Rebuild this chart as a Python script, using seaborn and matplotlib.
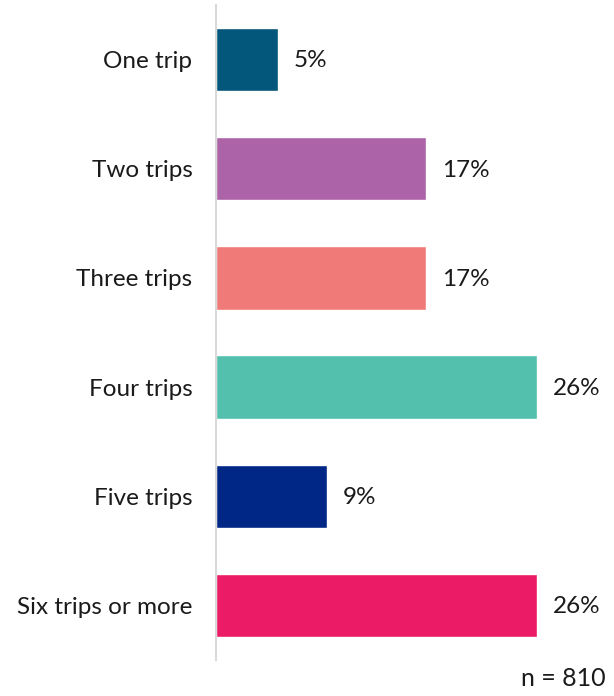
import matplotlib
matplotlib.use("Agg")
import matplotlib.pyplot as plt
import seaborn as sns
import pandas as pd

categories = ["One trip", "Two trips", "Three trips", "Four trips", "Five trips", "Six trips or more"]
values = [5, 17, 17, 26, 9, 26]
colors = ["#02577A", "#AD63A8", "#F07A77", "#52C0AD", "#002686", "#EC1B66"]
sample_note = "n = 810"

sns.set_theme(style="white")
plt.rcParams["font.family"] = ["Lato", "DejaVu Sans"]

df = pd.DataFrame({"category": categories, "value": values})

fig = plt.figure(figsize=(6.14, 6.96), dpi=100)
ax = fig.add_axes([216 / 614, 36 / 696, 395 / 614, 655 / 696])

sns.barplot(data=df, y="category", x="value", hue="category", palette=colors,
            order=categories, orient="h", width=0.58, legend=False, ax=ax,
            saturation=1)

ax.set_xlim(0, 32)
ax.set_ylim(len(categories) - 0.5, -0.5)
ax.set_xlabel("")
ax.set_ylabel("")
ax.set_xticks([])
ax.tick_params(axis="y", length=0, pad=17, labelsize=17.5, labelcolor="#1a1a1a")

for side in ["top", "right", "bottom"]:
    ax.spines[side].set_visible(False)
ax.spines["left"].set_color("#d9d9d9")
ax.spines["left"].set_linewidth(1.5)

for i, v in enumerate(values):
    ax.annotate(f"{v}%", xy=(v, i), xytext=(11.5, -1), textcoords="offset points",
                ha="left", va="center", fontsize=17.5, color="#1a1a1a")

fig.text(606 / 614, 6 / 696, sample_note, ha="right", va="bottom",
         fontsize=18, color="#1a1a1a")

fig.savefig("out.png", dpi=100)
